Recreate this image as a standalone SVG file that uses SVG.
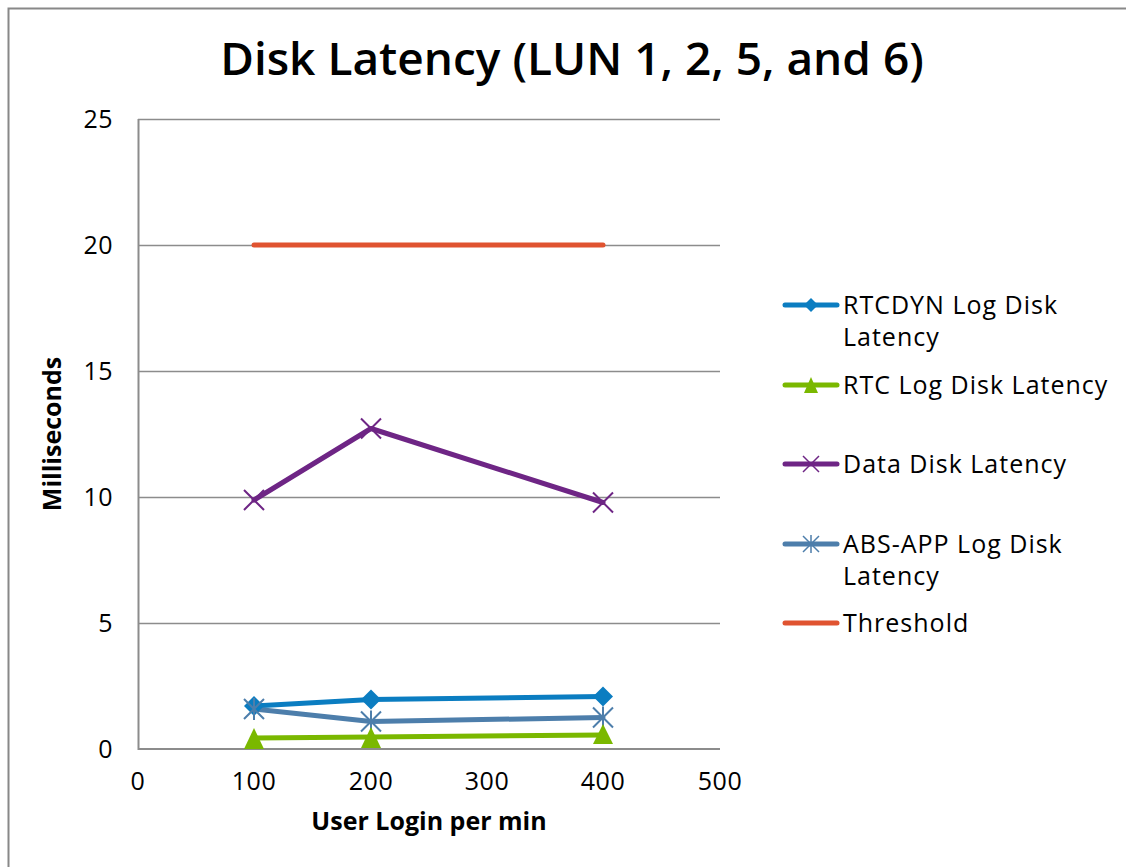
<svg xmlns="http://www.w3.org/2000/svg" width="1126" height="867" viewBox="0 0 1126 867">
<style>
.t{font-family:"Open Sans","Liberation Sans",sans-serif;fill:#000}
.tick{font-size:25px;letter-spacing:0.5px}
.leg{font-size:25px;letter-spacing:1px}
.grid{stroke:#8c8c8c;stroke-width:1.5;fill:none}
.ser{fill:none;stroke-width:5;stroke-linejoin:round;stroke-linecap:round}
</style>
<rect x="0" y="0" width="1126" height="867" fill="#fff"/>
<rect x="8.5" y="8.5" width="1130" height="870" fill="none" stroke="#888" stroke-width="2"/>
<text class="t" x="572" y="75" font-size="46" font-weight="600" text-anchor="middle">Disk Latency (LUN 1, 2, 5, and 6)</text>
<g id="grid">
<line class="grid" x1="138" y1="119.5" x2="720" y2="119.5"/>
<line class="grid" x1="138" y1="245.5" x2="720" y2="245.5"/>
<line class="grid" x1="138" y1="371.5" x2="720" y2="371.5"/>
<line class="grid" x1="138" y1="497.5" x2="720" y2="497.5"/>
<line class="grid" x1="138" y1="623.5" x2="720" y2="623.5"/>
<line x1="138" y1="749" x2="720" y2="749" stroke="#8c8c8c" stroke-width="2"/>
<line x1="138.5" y1="119" x2="138.5" y2="750" stroke="#8c8c8c" stroke-width="2"/>
</g>
<g id="yticks" class="t tick" text-anchor="end">
<text x="113" y="128">25</text>
<text x="113" y="254">20</text>
<text x="113" y="380">15</text>
<text x="113" y="506">10</text>
<text x="113" y="632">5</text>
<text x="113" y="758">0</text>
</g>
<g id="xticks" class="t tick" text-anchor="middle">
<text x="138" y="790">0</text>
<text x="254" y="790">100</text>
<text x="371" y="790">200</text>
<text x="487" y="790">300</text>
<text x="603" y="790">400</text>
<text x="720" y="790">500</text>
</g>
<text class="t" x="429" y="830" font-size="25" font-weight="bold" text-anchor="middle">User Login per min</text>
<text class="t" transform="translate(61,434) rotate(-90)" font-size="25" font-weight="bold" text-anchor="middle">Milliseconds</text>
<g id="connectors">
<polyline class="ser" stroke="#E05330" points="254,245 603,245" stroke-linecap="butt"/>
<polyline class="ser" stroke="#6E2585" points="254,500 371,428.5 603,502.5"/>
<polyline class="ser" stroke="#0B7DC1" points="254,706 371,699.5 603,696.5"/>
<polyline class="ser" stroke="#4D7EAB" points="254,709 371,721.5 603,717.5"/>
<polyline class="ser" stroke="#7AB800" points="254,738 371,737 603,735"/>
</g>
<g id="markers">
<g stroke="#6E2585" stroke-width="2">
<path d="M244,490 L264,510 M264,490 L244,510"/>
<path d="M361,418.5 L381,438.5 M381,418.5 L361,438.5"/>
<path d="M593,492.5 L613,512.5 M613,492.5 L593,512.5"/>
</g>
<g fill="#0B7DC1">
<path d="M254,696 L264,706 L254,716 L244,706 Z"/>
<path d="M371,689.5 L381,699.5 L371,709.5 L361,699.5 Z"/>
<path d="M603,686.5 L613,696.5 L603,706.5 L593,696.5 Z"/>
</g>
<g stroke="#4D7EAB" stroke-width="2">
<path d="M244,699 L264,719 M264,699 L244,719 M254,698 L254,720"/>
<path d="M361,711.5 L381,731.5 M381,711.5 L361,731.5 M371,710.5 L371,732.5"/>
<path d="M593,707.5 L613,727.5 M613,707.5 L593,727.5 M603,706.5 L603,728.5"/>
</g>
<g fill="#7AB800">
<path d="M254,728 L264,749 L244,749 Z"/>
<path d="M371,727 L381,748 L361,748 Z"/>
<path d="M603,724 L613,744 L593,744 Z"/>
</g>
</g>
<g id="legend">
<g id="leg-rtcdyn">
<line x1="785" y1="305" x2="837" y2="305" stroke="#0B7DC1" stroke-width="5" stroke-linecap="round"/>
<path d="M811,298 L818,305 L811,312 L804,305 Z" fill="#0B7DC1"/>
<text class="t leg" x="843" y="314">RTCDYN Log Disk</text>
<text class="t leg" x="843" y="346">Latency</text>
</g>
<g id="leg-rtc">
<line x1="785" y1="385" x2="837" y2="385" stroke="#7AB800" stroke-width="5" stroke-linecap="round"/>
<path d="M811,377 L818,393 L804,393 Z" fill="#7AB800"/>
<text class="t leg" x="843" y="394">RTC Log Disk Latency</text>
</g>
<g id="leg-data">
<line x1="785" y1="464" x2="837" y2="464" stroke="#6E2585" stroke-width="5" stroke-linecap="round"/>
<path d="M803,456 L819,472 M819,456 L803,472" stroke="#6E2585" stroke-width="1.5"/>
<text class="t leg" x="843" y="473">Data Disk Latency</text>
</g>
<g id="leg-abs">
<line x1="785" y1="544" x2="837" y2="544" stroke="#4D7EAB" stroke-width="5" stroke-linecap="round"/>
<path d="M803,536 L819,552 M819,536 L803,552 M811,535 L811,553" stroke="#4D7EAB" stroke-width="1.5"/>
<text class="t leg" x="843" y="553">ABS-APP Log Disk</text>
<text class="t leg" x="843" y="585">Latency</text>
</g>
<g id="leg-threshold">
<line x1="785" y1="623" x2="837" y2="623" stroke="#E05330" stroke-width="5" stroke-linecap="round"/>
<text class="t leg" x="843" y="632">Threshold</text>
</g>
</g>
</svg>
